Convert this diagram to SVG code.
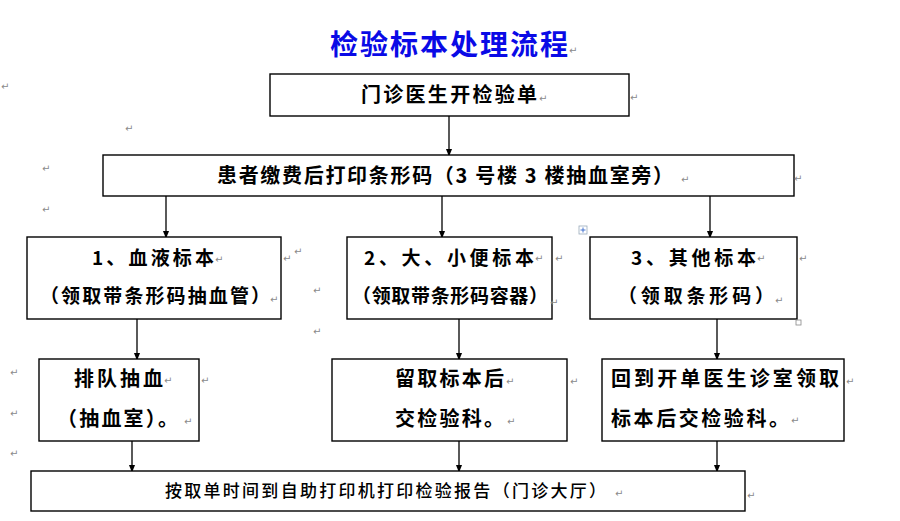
<svg xmlns="http://www.w3.org/2000/svg" width="900" height="521" viewBox="0 0 900 521">
<defs>
<marker id="ah" markerWidth="8" markerHeight="10" refX="8" refY="4" orient="auto" markerUnits="userSpaceOnUse" viewBox="0 0 10 8">
<path d="M0,0 L10,4 L0,8 Z" fill="#000"/>
</marker>
<style>
.box{fill:#fff;stroke:#000;stroke-width:1.4}
.t{font-family:"Noto Sans CJK SC","Liberation Sans",sans-serif;font-weight:700;fill:#000}
.n{font-family:"Noto Sans CJK SC","Liberation Sans",sans-serif;font-weight:500;fill:#000}
.c{stroke:#000;stroke-width:1.3;fill:none;marker-end:url(#ah)}
.rm{font-family:"DejaVu Sans",sans-serif;font-size:10px;fill:#8a8a8a}
</style>
</defs>
<rect width="900" height="521" fill="#fff"/>
<text x="330" y="55" class="t" font-size="28" style="fill:#0a0ae6" textLength="238" lengthAdjust="spacing">检验标本处理流程</text>

<g id="connectors">
<line class="c" x1="449" y1="116" x2="449" y2="155"/>
<line class="c" x1="166" y1="196" x2="166" y2="237"/>
<line class="c" x1="442" y1="196" x2="442" y2="237"/>
<line class="c" x1="710" y1="196" x2="710" y2="237"/>
<line class="c" x1="137" y1="319" x2="137" y2="359"/>
<line class="c" x1="459" y1="319" x2="459" y2="359"/>
<line class="c" x1="717" y1="319" x2="717" y2="359"/>
<line class="c" x1="132" y1="441" x2="132" y2="471"/>
<line class="c" x1="459" y1="441" x2="459" y2="471"/>
<line class="c" x1="717" y1="441" x2="717" y2="471"/>
</g>

<g id="n1">
<rect class="box" x="270" y="74" width="359" height="42"/>
<text class="t" x="361" y="102" font-size="20" textLength="176" lengthAdjust="spacing">门诊医生开检验单</text>
</g>
<g id="n2">
<rect class="box" x="103" y="155" width="691" height="41"/>
<text class="t" x="217" y="183" font-size="20" textLength="456" lengthAdjust="spacing">患者缴费后打印条形码（3 号楼 3 楼抽血室旁）</text>
</g>
<g id="n3a">
<rect class="box" x="27" y="237" width="254" height="82"/>
<text class="t" x="92" y="265" font-size="19" textLength="122" lengthAdjust="spacing">1、血液标本</text>
<text class="t" x="40" y="303" font-size="19" textLength="230" lengthAdjust="spacing">（领取带条形码抽血管）</text>
</g>
<g id="n3b">
<rect class="box" x="347" y="237" width="205" height="82"/>
<text class="t" x="364" y="265" font-size="19" textLength="170" lengthAdjust="spacing">2、大、小便标本</text>
<text class="t" x="352" y="303" font-size="19" textLength="196" lengthAdjust="spacing">（领取带条形码容器）</text>
</g>
<g id="n3c">
<rect class="box" x="590" y="237" width="207" height="82"/>
<text class="t" x="631" y="265" font-size="19" textLength="125" lengthAdjust="spacing">3、其他标本</text>
<text class="t" x="618" y="303" font-size="19" textLength="156" lengthAdjust="spacing">（领取条形码）</text>
</g>
<g id="n4a">
<rect class="box" x="39" y="359" width="160" height="82"/>
<text class="t" x="74" y="386" font-size="20" textLength="89" lengthAdjust="spacing">排队抽血</text>
<text class="t" x="57" y="426" font-size="20" textLength="121" lengthAdjust="spacing">（抽血室）。</text>
</g>
<g id="n4b">
<rect class="box" x="332" y="359" width="235" height="82"/>
<text class="t" x="395" y="386" font-size="20" textLength="109" lengthAdjust="spacing">留取标本后</text>
<text class="t" x="395" y="426" font-size="20" textLength="109" lengthAdjust="spacing">交检验科。</text>
</g>
<g id="n4c">
<rect class="box" x="602" y="359" width="242" height="82"/>
<text class="t" x="611" y="386" font-size="20" textLength="228" lengthAdjust="spacing">回到开单医生诊室领取</text>
<text class="t" x="611" y="426" font-size="20" textLength="178" lengthAdjust="spacing">标本后交检验科。</text>
</g>
<g id="n5">
<rect class="box" x="31" y="471" width="714" height="40"/>
<text class="n" x="165" y="497" font-size="17" textLength="441" lengthAdjust="spacing">按取单时间到自助打印机打印检验报告（门诊大厅）</text>
</g>

<g id="marks">
<text class="rm" x="1" y="90">↵</text>
<text class="rm" x="125" y="132">↵</text>
<text class="rm" x="42" y="172">↵</text>
<text class="rm" x="42" y="213">↵</text>
<text class="rm" x="569" y="54">↵</text>
<text class="rm" x="539" y="102">↵</text>
<text class="rm" x="630" y="101">↵</text>
<text class="rm" x="681" y="183">↵</text>
<text class="rm" x="794" y="182">↵</text>
<text class="rm" x="215" y="263">↵</text>
<text class="rm" x="270" y="303">↵</text>
<text class="rm" x="283" y="262">↵</text>
<text class="rm" x="294" y="255">↵</text>
<text class="rm" x="313" y="294">↵</text>
<text class="rm" x="313" y="335">↵</text>
<text class="rm" x="535" y="262">↵</text>
<text class="rm" x="555" y="262">↵</text>
<text class="rm" x="550" y="306">↵</text>
<text class="rm" x="757" y="262">↵</text>
<text class="rm" x="799" y="262">↵</text>
<text class="rm" x="775" y="304">↵</text>
<text class="rm" x="10" y="376">↵</text>
<text class="rm" x="10" y="417">↵</text>
<text class="rm" x="10" y="457">↵</text>
<text class="rm" x="164" y="384">↵</text>
<text class="rm" x="201" y="384">↵</text>
<text class="rm" x="184" y="425">↵</text>
<text class="rm" x="506" y="385">↵</text>
<text class="rm" x="570" y="385">↵</text>
<text class="rm" x="507" y="425">↵</text>
<text class="rm" x="846" y="385">↵</text>
<text class="rm" x="791" y="424">↵</text>
<text class="rm" x="615" y="497">↵</text>
<text class="rm" x="747" y="499">↵</text>
</g>
<g id="handles">
<rect x="579" y="226" width="8" height="8" fill="#fff" stroke="#9ab" stroke-width="0.8"/>
<path d="M583,227.5 V232.5 M580.5,230 H585.5" stroke="#36c" stroke-width="0.9"/>
<rect x="796" y="320" width="5" height="5" fill="#fff" stroke="#888" stroke-width="0.8"/>
</g>
</svg>
